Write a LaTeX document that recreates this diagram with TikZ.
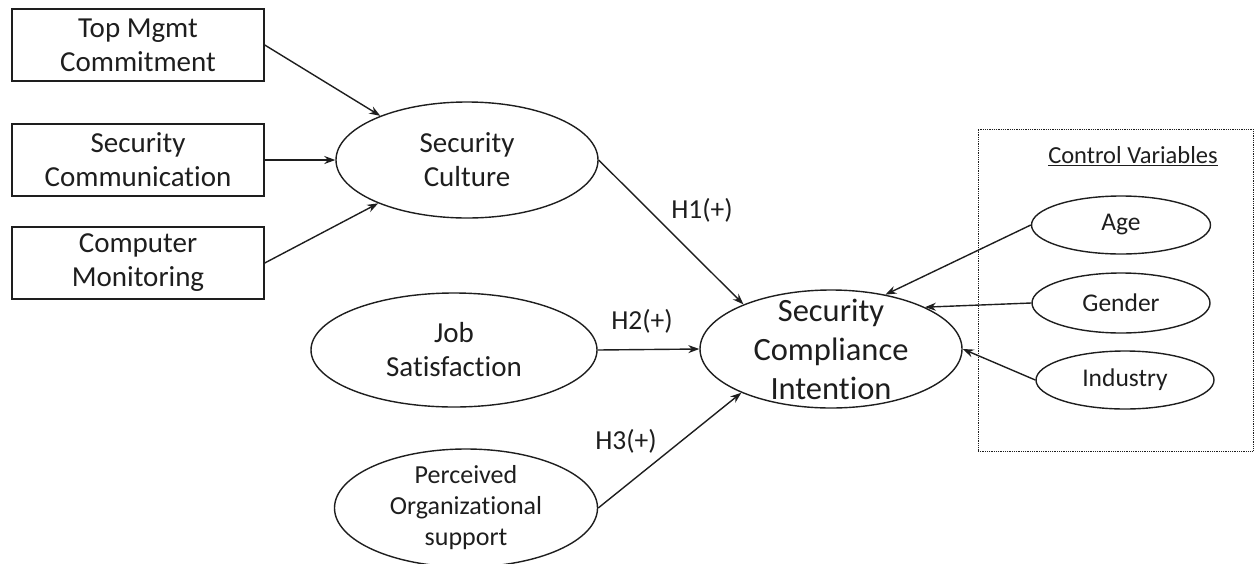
\documentclass[tikz,border=0pt]{standalone}
\usepackage{fontspec}
\setmainfont{Carlito}[Ligatures=NoCommon]
\usetikzlibrary{shapes.geometric,arrows.meta}
\definecolor{ink}{RGB}{30,30,30}
\begin{document}
\begin{tikzpicture}[x=1pt,y=-1pt,
  every node/.style={text=ink},
  box/.style={draw=ink, line width=1.5pt, inner sep=0pt, align=center,
              minimum width=252pt, minimum height=72pt,
              font=\fontsize{29}{34}\selectfont},
  oval/.style={draw=ink, ellipse, line width=1.4pt, inner sep=0pt},
  bigtxt/.style={align=center, text=ink, font=\fontsize{29}{34}\selectfont},
  hugetxt/.style={align=center, text=ink, font=\fontsize{32.5}{39}\selectfont},
  postxt/.style={align=center, text=ink, font=\fontsize{26}{31}\selectfont},
  ctrltxt/.style={align=center, text=ink, font=\fontsize{25.5}{30}\selectfont},
  hyp/.style={font=\fontsize{27.5}{32}\selectfont},
  link/.style={draw=ink, line width=1.4pt, -{Stealth[length=11pt,width=8pt]}},
]
\useasboundingbox (0,0) rectangle (1255,563);

% antecedents of security culture
\node[box] (tm) at (138,45) {Top Mgmt\\Commitment};
\node[box] (scomm) at (138,160) {Security\\Communication};
\node[box] (cm) at (138,263) {Computer\\Monitoring};

% latent constructs
\node[oval, minimum width=262pt, minimum height=116pt,
      label={[bigtxt]center:{Security\\Culture}}] (sc) at (467,160) {};
\node[oval, minimum width=286pt, minimum height=114pt,
      label={[bigtxt]center:{Job\\Satisfaction}}] (js) at (454,350) {};
\node[oval, minimum width=263pt, minimum height=118pt,
      label={[postxt]center:{Perceived\\Organizational\\support}}] (pos) at (466,508) {};
\node[oval, minimum width=262pt, minimum height=118pt,
      label={[hugetxt]center:{Security\\Compliance\\Intention}}] (sci) at (831,349) {};

% control variables
\node[draw=ink, line width=1pt, dash pattern=on 1pt off 0.8pt, inner sep=0pt,
      minimum width=275pt, minimum height=322pt] (ctrl) at (1115.5,290) {};
\node[align=center, font=\fontsize{24.5}{29}\selectfont] (ctitle) at (1133,156)
      {\underline{Control Variables}};
\node[oval, minimum width=179pt, minimum height=58pt,
      label={[ctrltxt]center:Age}] (age) at (1121,225) {};
\node[oval, minimum width=178pt, minimum height=60pt,
      label={[ctrltxt]center:Gender}] (gender) at (1121,303) {};
\node[oval, minimum width=178pt, minimum height=58pt,
      label={[ctrltxt]center:Industry}] (industry) at (1125,380) {};

% paths
\draw[link] (tm.east) -- (sc.153);
\draw[link] (scomm.east) -- (sc.west);
\draw[link] (cm.east) -- (sc.206);
\draw[link] (sc.east) -- (sci.153);
\draw[link] (js.east) -- (sci.west);
\draw[link] (pos.east) -- (sci.206);
\draw[link] (age.west) -- (sci.45);
\draw[link] (gender.west) -- (sci.24);
\draw[link] (industry.west) -- (sci.east);

% hypothesis labels
\node[hyp] (h1) at (702,210) {H1(+)};
\node[hyp] (h2) at (642,321) {H2(+)};
\node[hyp] (h3) at (626,441) {H3(+)};
\end{tikzpicture}
\end{document}
